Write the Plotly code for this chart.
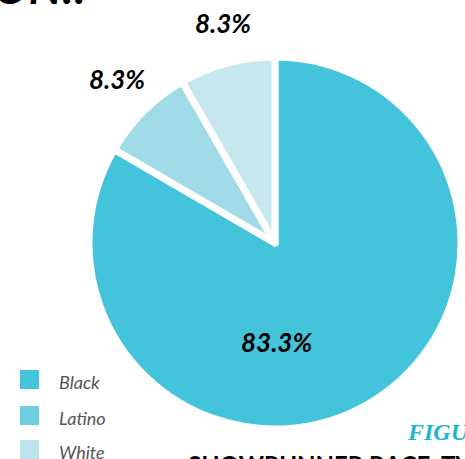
import plotly.graph_objects as go

categories = ["Black", "Latino", "White"]
values = [83.3, 8.3, 8.3]
slice_colors = ["#44C4DB", "#A2DBE8", "#C6E7ED"]
legend_colors = ["#44C4DB", "#6FCFE2", "#BEE5EF"]

W, H = 465, 459
cx, cy, r = 275, 243, 186

fig = go.Figure()
fig.add_trace(go.Pie(
    labels=categories,
    values=values,
    sort=False,
    direction="clockwise",
    rotation=0,
    marker=dict(colors=slice_colors, line=dict(color="white", width=7)),
    textinfo="none",
    hoverinfo="label+percent",
    showlegend=False,
    domain=dict(x=[(cx - r) / W, (cx + r) / W], y=[(H - cy - r) / H, (H - cy + r) / H]),
))

def px(x):
    return x / W

def py(y):
    return 1 - y / H

label_pos = [(276, 342), (117, 79), (223, 23)]
annotations = []
for v, (x, y) in zip(values, label_pos):
    annotations.append(dict(
        x=px(x), y=py(y), xref="paper", yref="paper", showarrow=False,
        text=f"<b><i>{v}%</i></b>",
        font=dict(family="Lato", size=26, color="#000000"),
        xanchor="center", yanchor="middle",
    ))

# legend (custom, squares + labels)
shapes = []
leg_y = [380, 416, 450]
for cat, col, y in zip(categories, legend_colors, leg_y):
    shapes.append(dict(type="rect", xref="paper", yref="paper",
                       x0=px(20), x1=px(39), y0=py(y - 10), y1=py(y + 9),
                       fillcolor=col, line=dict(width=0)))
    annotations.append(dict(
        x=px(57), y=py(y + 2), xref="paper", yref="paper", showarrow=False,
        text=f"<i>{cat}</i>", xanchor="left", yanchor="middle",
        font=dict(family="Lato", size=18, color="#555555"),
    ))

# cut-off surrounding page text
annotations.append(dict(
    x=px(-8), y=py(16), xref="paper", yref="paper", showarrow=False,
    text="<b><i>ON!!</i></b>", xanchor="left", yanchor="bottom",
    font=dict(family="Lato", size=46, color="#000000"),
))
annotations.append(dict(
    x=px(405), y=py(432), xref="paper", yref="paper", showarrow=False,
    text="<b><i>FIGURE 3</i></b>", xanchor="left", yanchor="middle",
    font=dict(family="Liberation Serif", size=24, color="#1DB6CB"),
))
annotations.append(dict(
    x=px(186), y=py(448), xref="paper", yref="paper", showarrow=False,
    text="<b>SHOWRUNNER RACE, TV</b>", xanchor="left", yanchor="top",
    font=dict(family="Lato", size=24, color="#000000"),
))

fig.update_layout(
    width=W, height=H,
    margin=dict(l=0, r=0, t=0, b=0),
    paper_bgcolor="white", plot_bgcolor="white",
    annotations=annotations, shapes=shapes,
    showlegend=False,
)

fig.write_html("out.html", config={"displayModeBar": False},
               post_script="document.body.style.margin='0';")
